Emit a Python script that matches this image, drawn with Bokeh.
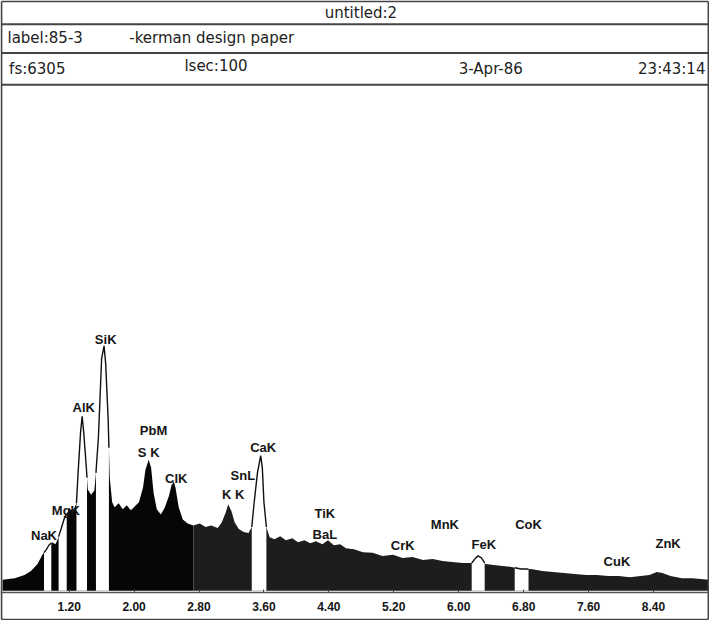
import numpy as np
from bokeh.plotting import figure
from bokeh.models import Range1d, LinearAxis, FixedTicker, NumeralTickFormatter
from bokeh.core.properties import value
from bokeh.embed import file_html
from bokeh.resources import INLINE

# ---- data ----
energy_kev = [0.38, 0.53, 0.65, 0.73, 0.81, 0.87, 0.92, 0.95, 0.99, 1.03,
              1.06, 1.10, 1.14, 1.18, 1.21, 1.25, 1.29, 1.31, 1.34, 1.36,
              1.38, 1.41, 1.43, 1.47, 1.51, 1.53, 1.56, 1.58, 1.60, 1.63,
              1.65, 1.68, 1.70, 1.73, 1.76, 1.81, 1.86, 1.91, 1.96, 2.01,
              2.06, 2.11, 2.14, 2.18, 2.21, 2.24, 2.28, 2.33, 2.38, 2.43,
              2.46, 2.49, 2.51, 2.55, 2.60, 2.66, 2.73, 2.81, 2.88, 2.95,
              3.03, 3.08, 3.13, 3.16, 3.20, 3.24, 3.29, 3.35, 3.41, 3.45,
              3.48, 3.52, 3.56, 3.58, 3.60, 3.63, 3.67, 3.73, 3.80, 3.87,
              3.95, 4.02, 4.10, 4.17, 4.24, 4.32, 4.39, 4.46, 4.54, 4.61,
              4.71, 4.82, 4.94, 5.06, 5.19, 5.31, 5.43, 5.56, 5.68, 5.80,
              5.92, 6.05, 6.16, 6.21, 6.24, 6.28, 6.33, 6.43, 6.54, 6.65,
              6.77, 6.89, 7.03, 7.16, 7.30, 7.43, 7.57, 7.70, 7.84, 7.97,
              8.11, 8.24, 8.35, 8.44, 8.51, 8.61, 8.75, 8.88, 9.08]
counts = [22, 25, 31, 39, 53, 71, 82, 90, 96, 92,
          102, 122, 143, 155, 161, 159, 173, 233, 312, 345,
          312, 247, 200, 190, 198, 233, 302, 380, 459, 484,
          449, 341, 224, 175, 165, 173, 161, 169, 159, 167,
          175, 204, 239, 259, 243, 194, 161, 151, 165, 188,
          208, 216, 204, 165, 141, 133, 129, 133, 126, 129,
          124, 135, 155, 171, 157, 135, 122, 116, 114, 126,
          175, 233, 267, 243, 175, 126, 106, 102, 108, 100,
          104, 96, 100, 94, 98, 92, 100, 90, 92, 84,
          82, 76, 75, 69, 71, 65, 67, 61, 63, 59,
          57, 55, 55, 65, 69, 65, 53, 51, 49, 47,
          43, 43, 39, 37, 35, 33, 31, 31, 29, 29,
          27, 29, 31, 37, 35, 29, 25, 25, 22]

roi_start = [0.89, 1.07, 1.29, 1.53, 3.45, 6.16, 6.69]
roi_end = [0.98, 1.17, 1.42, 1.69, 3.63, 6.32, 6.86]

peak_names = ["NaK", "MgK", "AlK", "SiK", "PbM", "S K", "ClK", "SnL", "K K",
              "CaK", "TiK", "BaL", "CrK", "MnK", "FeK", "CoK", "CuK", "ZnK"]
peak_label_e = [0.89, 1.16, 1.38, 1.65, 2.24, 2.18, 2.52, 3.34, 3.22,
                3.59, 4.35, 4.35, 5.31, 5.83, 6.31, 6.86, 7.95, 8.58]
peak_label_c = [110, 159, 363, 496, 316, 273, 222, 227, 190,
                284, 153, 112, 90, 131, 92, 131, 57, 94]

tick_values = [1.2, 2.0, 2.8, 3.6, 4.4, 5.2, 6.0, 6.8, 7.6, 8.4, 9.2]

title_text = "untitled:2"
label_text = "label:85-3"
desc_text = "-kerman design paper"
fs_text = "fs:6305"
lsec_text = "lsec:100"
date_text = "3-Apr-86"
time_text = "23:43:14"

# ---- layout constants ----
X0, X1 = 0.366, 9.077
Y_TOP, Y_H1, Y_H2, Y_H3 = 1164.8, 1119.7, 1062.8, 1000.1
Y_AXIS, Y_BOT = -3.9, -56.9

p = figure(width=709, height=620, output_backend="svg", toolbar_location=None,
           x_range=Range1d(0.354, 9.090), y_range=Range1d(-58.7, 1166.6),
           x_axis_type=None, y_axis_type=None, min_border=0)
p.min_border_left = p.min_border_right = p.min_border_top = p.min_border_bottom = 0
p.outline_line_color = None
p.background_fill_color = "white"
p.border_fill_color = "white"

E = np.array(energy_kev)
C = np.array(counts)

# spectrum fill (two tones as in the scan)
split = 56
p.varea(x=E[:split + 1], y1=0, y2=C[:split + 1], fill_color="#060606")
p.varea(x=E[split:], y1=0, y2=C[split:], fill_color="#1d1d1d")

# region-of-interest windows: white with outlined spectrum
for a, b in zip(roi_start, roi_end):
    inner = [e for e in energy_kev if a < e < b]
    xs = np.array([a] + inner + [b])
    ys = np.interp(xs, E, C)
    p.varea(x=xs, y1=0, y2=ys, fill_color="white")
    p.line(xs, ys, line_color="#111111", line_width=1.4)

# peak labels
p.text(x=peak_label_e, y=peak_label_c, text=peak_names,
       text_font=value("Liberation Sans"), text_font_style="bold",
       text_font_size="13px", text_align="center", text_baseline="middle",
       text_color="#151515")

# frame and header rules
p.multi_line(xs=[[X0, X1], [X0, X1], [X0, X1], [X0, X1], [X0, X1], [X0, X0], [X1, X1]],
             ys=[[Y_TOP, Y_TOP], [Y_H1, Y_H1], [Y_H2, Y_H2], [Y_H3, Y_H3],
                 [Y_BOT, Y_BOT], [Y_BOT, Y_TOP], [Y_BOT, Y_TOP]],
             line_color="#444444", line_width=1.8)

hfont = value("DejaVu Sans")
p.text(x=[4.795], y=[1142], text=[title_text], text_font=hfont,
       text_font_size="15px", text_align="center", text_baseline="middle",
       text_color="#222222")
p.text(x=[0.44, 1.94], y=[1093, 1093], text=[label_text, desc_text], text_font=hfont,
       text_font_size="15px", text_align="left", text_baseline="middle",
       text_color="#222222")
p.text(x=[0.46, 2.62, 6.0], y=[1031, 1037, 1031], text=[fs_text, lsec_text, date_text],
       text_font=hfont, text_font_size="15px", text_align="left",
       text_baseline="middle", text_color="#222222")
p.text(x=[9.04], y=[1031], text=[time_text], text_font=hfont,
       text_font_size="15px", text_align="right", text_baseline="middle",
       text_color="#222222")

# energy axis
xaxis = LinearAxis(fixed_location=Y_AXIS, ticker=FixedTicker(ticks=tick_values),
                   formatter=NumeralTickFormatter(format="0.00"))
xaxis.axis_line_color = "#555555"
xaxis.axis_line_width = 1.5
xaxis.major_tick_in = 3
xaxis.major_tick_out = 0
xaxis.major_tick_line_color = "#444444"
xaxis.minor_tick_line_color = None
xaxis.major_label_text_font = "Liberation Sans"
xaxis.major_label_text_font_style = "bold"
xaxis.major_label_text_font_size = "12px"
xaxis.major_label_text_color = "#151515"
xaxis.major_label_standoff = 9
p.add_layout(xaxis, "below")

open("out.html", "w").write(file_html(p, INLINE))
